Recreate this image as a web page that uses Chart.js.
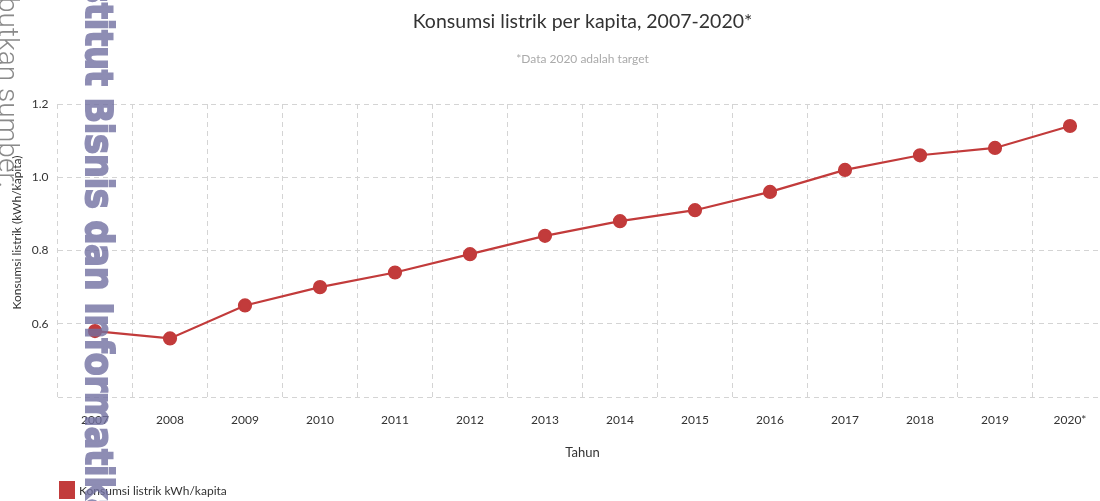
<!DOCTYPE html>
<html>
<head>
<meta charset="utf-8">
<script src="https://cdn.jsdelivr.net/npm/chart.js@4.4.1/dist/chart.umd.min.js"></script>
<style>
  html, body { margin: 0; padding: 0; background: #fff; overflow: hidden; width: 1100px; height: 501px; }
  #wrap { position: relative; width: 1154px; height: 501px; }
  .legend { position: absolute; left: 59px; top: 481px; font: 12px Lato, sans-serif; color: #333; display: flex; align-items: center; }
  .legend span.box { display: inline-block; width: 16px; height: 18px; background: #c23b3b; margin-right: 4px; }
  .wm { position: absolute; writing-mode: vertical-rl; white-space: nowrap; pointer-events: none; line-height: 1; }
  .wm1 { left: 77px; top: -53px; font: bold 37px "DejaVu Sans", sans-serif; color: rgb(114,113,162); -webkit-text-stroke: 2px rgb(114,113,162); opacity: 0.8; transform: scaleY(0.9); transform-origin: 0 0; }
  .wm2 { left: -8px; top: -34px; font: 300 28px Roboto, sans-serif; color: #8a8a8a; }
</style>
</head>
<body>
<div id="wrap">
  <canvas id="chart" width="1154" height="501"></canvas>
  <div class="legend"><span class="box"></span>Konsumsi listrik kWh/kapita</div>
  <div class="wm wm2">Sebutkan sumber:</div>
  <div class="wm wm1">Institut Bisnis dan Informatika</div>
</div>
<script>
// data
const YEARS = ["2007","2008","2009","2010","2011","2012","2013","2014","2015","2016","2017","2018","2019","2020*"];
const KONSUMSI = [0.58, 0.56, 0.65, 0.70, 0.74, 0.79, 0.84, 0.88, 0.91, 0.96, 1.02, 1.06, 1.08, 1.14];
const Y_TICKS = [0.4, 0.6, 0.8, 1.0, 1.2];

const RED = "#c23b3b";
const GRID = "#d4d4d4";
const FONT = "Lato, sans-serif";

new Chart(document.getElementById("chart"), {
  type: "line",
  data: {
    labels: YEARS,
    datasets: [{
      label: "Konsumsi listrik kWh/kapita",
      data: KONSUMSI,
      borderColor: RED,
      backgroundColor: RED,
      borderWidth: 2.2,
      pointRadius: 6,
      pointHoverRadius: 6,
      tension: 0,
    }],
  },
  options: {
    responsive: false,
    animation: false,
    layout: { padding: { left: 0, right: 46.5, top: 0, bottom: 31 } },
    plugins: {
      legend: { display: false },
      tooltip: { enabled: false },
      title: {
        display: true,
        fullSize: false,
        text: "Konsumsi listrik per kapita, 2007-2020*",
        color: "#333",
        font: { family: FONT, size: 19.5, weight: "normal" },
        padding: { top: 10, bottom: 10 },
      },
      subtitle: {
        display: true,
        fullSize: false,
        text: "*Data 2020 adalah target",
        color: "#aaa",
        font: { family: FONT, size: 12 },
        padding: { top: 8.5, bottom: 37.7 },
      },
    },
    scales: {
      x: {
        offset: true,
        grid: { offset: true, color: GRID, drawTicks: false },
        border: { display: false, dash: [5, 4] },
        ticks: { color: "#333", font: { family: FONT, size: 12 }, padding: 16, maxRotation: 0 },
        title: { display: true, text: "Tahun", color: "#333", font: { family: FONT, size: 13 }, padding: { top: 4, bottom: 9 } },
        afterFit: (s) => { s.height = 73; },
      },
      y: {
        min: 0.4,
        max: 1.2,
        afterBuildTicks: (s) => { s.ticks = Y_TICKS.map((v) => ({ value: v })); },
        grid: { color: GRID, drawTicks: false },
        border: { display: false, dash: [5, 4] },
        ticks: {
          color: "#333",
          font: { family: FONT, size: 12 },
          padding: 9,
          callback: (v) => (v <= 0.4 ? "" : v.toFixed(1)),
        },
        // leading en-spaces push the title a little above the axis middle, as in the original
        title: { display: true, text: "\u2002\u2002\u2002\u2002\u2002\u2002Konsumsi listrik (kWh/kapita)", color: "#333", font: { family: FONT, size: 12 }, padding: { top: 10, bottom: 4 } },
        afterFit: (s) => { s.width = 57.5; },
      },
    },
  },
});
</script>
</body>
</html>
